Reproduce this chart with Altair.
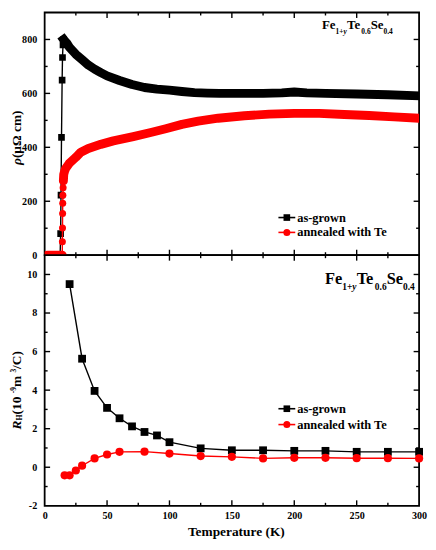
import altair as alt
import pandas as pd

FONT = "Liberation Serif"
W = 378
H1 = 245
H2 = 253

# ---------------- data ----------------
# resistivity, as-grown
AG_T = [2, 6, 10, 12.4, 12.8, 13.1, 13.5, 14.0, 14.3, 14.7, 15.2, 16, 18, 20, 25, 30, 35, 40, 45, 50,
        60, 70, 80, 90, 100, 110, 120, 130, 140, 150, 160, 175, 190, 200, 210, 225, 250, 275, 300]
AG_RHO = [0, 0, 0, 0, 80, 223, 437, 649, 733, 780, 800, 795, 785, 770, 745, 725, 705, 690, 677, 665,
          648, 633, 622, 616, 612, 607, 603, 601, 600, 600, 600, 600, 602, 605, 602, 600, 598, 595, 591]
# resistivity, annealed with Te
AN_T = [2, 8, 14.1, 14.2, 14.3, 14.4, 14.5, 14.6, 14.8, 15.0, 15.3, 16, 17, 18.6, 20, 25, 29, 35, 45, 55,
        71, 85, 97, 110, 123, 139, 160, 180, 200, 220, 240, 260, 280, 300]
AN_RHO = [0, 0, 0, 50, 101, 155, 193, 222, 250, 275, 300, 312, 323, 333, 342, 363, 382, 396, 411, 424,
          440, 455, 469, 485, 497, 508, 517, 523, 526, 526, 522, 518, 513, 508]

# Hall coefficient
HG_T = [20, 30, 40, 50, 60, 70, 80, 90, 100, 125, 150, 175, 200, 225, 250, 275, 300]
HG_R = [9.5, 5.63, 3.96, 3.08, 2.54, 2.12, 1.83, 1.65, 1.30, 0.98, 0.88, 0.88, 0.85, 0.85, 0.80, 0.80, 0.80]
HA_T = [16, 20, 25, 30, 40, 50, 60, 80, 100, 125, 150, 175, 200, 225, 250, 275, 300]
HA_R = [-0.42, -0.42, -0.17, 0.08, 0.46, 0.66, 0.80, 0.81, 0.71, 0.58, 0.54, 0.46, 0.49, 0.49, 0.47, 0.47, 0.46]

X_LABELS = [0, 50, 100, 150, 200, 250, 300]
X_MAJ = [50, 100, 150, 200, 250]
X_MIN = [25, 75, 125, 175, 225, 275]
Y1_LABELS = [0, 200, 400, 600, 800]
Y1_MAJ = [200, 400, 600, 800]
Y1_MIN = [100, 300, 500, 700]
Y2_LABELS = [-2, 0, 2, 4, 6, 8, 10]
Y2_MAJ = [0, 2, 4, 6, 8, 10]
Y2_MIN = [-1, 1, 3, 5, 7, 9]

SERIES = ["as-grown", "annealed with Te"]

# ---------------- scales / axes ----------------
xs = alt.Scale(domain=[0, 300], nice=False, zero=False)
ys1 = alt.Scale(domain=[0, 900], nice=False, zero=False)
ys2 = alt.Scale(domain=[-2, 11], nice=False, zero=False)

lab = dict(labelFont=FONT, labelFontWeight="bold", labelColor="black", labelFlush=False, labelFontSize=10.2)
xax_top = alt.Axis(labels=False, ticks=False, domain=False, grid=False, title=None)
xax_bot = alt.Axis(values=X_LABELS, ticks=False, tickSize=0, domain=False, grid=False,
                   title="Temperature (K)", titleFont=FONT, titleFontWeight="bold", titleFontSize=13.5,
                   titleColor="black", titlePadding=4, titleX=W / 2 + 4, labelPadding=5, **lab)
yax1 = alt.Axis(values=Y1_LABELS, ticks=False, tickSize=0, domain=False, grid=False, title=None,
                labelPadding=8, **lab)
yax2 = alt.Axis(values=Y2_LABELS, ticks=False, tickSize=0, domain=False, grid=False, title=None,
                labelPadding=8, labelExpr="'' + datum.value", **lab)


def X(ax):
    return alt.X("T:Q", scale=xs, axis=ax)


def tick_layers(xax, yfield, yscale, yax, H, ymaj, ymin):
    out = []
    for vals, ln in ((X_MAJ, 5.5), (X_MIN, 3)):
        df = pd.DataFrame({"T": vals})
        out.append(alt.Chart(df).mark_rule(color="black", strokeWidth=1.4).encode(
            x=X(xax), y=alt.value(H), y2=alt.value(H - ln)))
        out.append(alt.Chart(df).mark_rule(color="black", strokeWidth=1.4).encode(
            x=X(xax), y=alt.value(0), y2=alt.value(ln)))
    for vals, ln in ((ymaj, 5.5), (ymin, 3)):
        df = pd.DataFrame({yfield: vals})
        Y = alt.Y(f"{yfield}:Q", scale=yscale, axis=yax)
        out.append(alt.Chart(df).mark_rule(color="black", strokeWidth=1.4).encode(
            y=Y, x=alt.value(0), x2=alt.value(ln)))
        out.append(alt.Chart(df).mark_rule(color="black", strokeWidth=1.4).encode(
            y=Y, x=alt.value(W), x2=alt.value(W - ln)))
    return out


def txt(s, x, y, size, italic=False, angle=0, align="left", baseline="alphabetic"):
    return alt.Chart(alt.Data(values=[{"a": 1}])).mark_text(
        text=s, font=FONT, fontSize=size, fontWeight="bold",
        fontStyle="italic" if italic else "normal", angle=angle, align=align,
        baseline=baseline, color="black").encode(x=alt.value(x), y=alt.value(y))


def legend(y1, y2):
    out = []
    x0 = W - 142
    for name, yy, col, shape in ((SERIES[0], y1, "black", "square"), (SERIES[1], y2, "red", "circle")):
        d = alt.Data(values=[{"s": name}])
        out.append(alt.Chart(d).mark_rule(color=col, strokeWidth=1.6).encode(
            x=alt.value(x0), x2=alt.value(x0 + 17), y=alt.value(yy)))
        out.append(alt.Chart(d).mark_point(shape=shape, filled=True, opacity=1, color=col,
                                           size=45 if shape == "square" else 50).encode(
            x=alt.value(x0 + 8.5), y=alt.value(yy)))
        out.append(alt.Chart(d).mark_text(font=FONT, fontSize=12.5, fontWeight="bold", align="left",
                                          baseline="middle", color="black").encode(
            text="s:N", x=alt.value(x0 + 19), y=alt.value(yy)))
    return out


def formula(x0, yb, big, small):
    parts = [("Fe", big, 1.055, False, 0), ("1+", small, 1.07, False, 1), ("y", small, 0.47, True, 1),
             ("Te", big, 1.111, False, 0), ("0.6", small, 1.25, False, 1), ("Se", big, 1.0, False, 0),
             ("0.4", small, 1.25, False, 1)]
    out = []
    x = x0
    for s, fs, em, it, sub in parts:
        out.append(txt(s, x, yb + (0.4 * big if sub else 0), fs, italic=it))
        x += em * fs
    return out


# ---------------- top panel ----------------
ag = pd.DataFrame({"T": AG_T, "rho": AG_RHO})
an = pd.DataFrame({"T": AN_T, "rho": AN_RHO})
Y1 = alt.Y("rho:Q", scale=ys1, axis=yax1)

top_layers = tick_layers(xax_top, "rho", ys1, yax1, H1, Y1_MAJ, Y1_MIN)
top_layers += [
    alt.Chart(ag).mark_line(color="black", strokeWidth=1.4, clip=True).encode(x=X(xax_top), y=Y1),
    alt.Chart(ag).transform_filter("datum.T >= 15.2").mark_line(
        color="black", strokeWidth=9, strokeCap="square", strokeJoin="round", clip=True).encode(x=X(xax_top), y=Y1),
    alt.Chart(ag).transform_filter("datum.T > 12.5 && datum.T < 15.5").mark_point(
        shape="square", filled=True, opacity=1, color="black", size=45, clip=True).encode(x=X(xax_top), y=Y1),
    alt.Chart(an).mark_line(color="red", strokeWidth=1.4, clip=True).encode(x=X(xax_top), y=Y1),
    alt.Chart(an).transform_filter("datum.T <= 14.1 || datum.T >= 15.0").transform_calculate(
        part="datum.T < 14.5 ? 'a' : 'b'").mark_line(
        color="red", strokeWidth=9, strokeCap="round", strokeJoin="round", clip=True).encode(
        x=X(xax_top), y=Y1, detail="part:N"),
    alt.Chart(an).transform_filter("datum.T > 14.1 && datum.T < 15.1").mark_point(
        shape="circle", filled=True, opacity=1, color="red", size=50, clip=True).encode(x=X(xax_top), y=Y1),
]
top_layers += legend(207, 222)
top_layers += formula(W - 98, 17, 13, 7.5)
top_layers += [txt("ρ", -28, 154, 13.5, italic=True, angle=270, baseline="middle"),
               txt(" (μΩ cm)", -28, 147, 13.5, angle=270, baseline="middle")]

top = alt.layer(*top_layers).properties(width=W, height=H1)

# ---------------- bottom panel ----------------
hg = pd.DataFrame({"T": HG_T, "RH": HG_R})
ha = pd.DataFrame({"T": HA_T, "RH": HA_R})
Y2 = alt.Y("RH:Q", scale=ys2, axis=yax2)

bot_layers = tick_layers(xax_bot, "RH", ys2, yax2, H2, Y2_MAJ, Y2_MIN)
bot_layers += [
    alt.Chart(hg).mark_line(color="black", strokeWidth=1.4).encode(x=X(xax_bot), y=Y2),
    alt.Chart(hg).mark_point(shape="square", filled=True, opacity=1, color="black", size=62).encode(x=X(xax_bot), y=Y2),
    alt.Chart(ha).mark_line(color="red", strokeWidth=1.4).encode(x=X(xax_bot), y=Y2),
    alt.Chart(ha).mark_point(shape="circle", filled=True, opacity=1, color="red", size=68).encode(x=X(xax_bot), y=Y2),
]
bot_layers += legend(155, 171)
bot_layers += formula(W - 95, 29, 16.5, 9.5)
# y title: R_H (10^-9 m^3/C), rotated, built from pieces going upward
fs = 13.5
yy = 176
pieces = [("R", fs, 0.667, True, 0), ("H", 8, 0.778, False, 3.5), (" (10", fs, 1.583, False, 0),
          ("-9", 7.5, 0.833, False, -3.2), (" m", fs, 1.083, False, 0), ("3", 7.5, 0.5, False, -3.2),
          ("/C)", fs, 1.333, False, 0)]
for s, f, em, it, dx in pieces:
    bot_layers.append(txt(s, -28 + dx, yy, f, italic=it, angle=270, baseline="middle"))
    yy -= em * f

bot = alt.layer(*bot_layers).properties(width=W, height=H2)

chart = alt.vconcat(top, bot, spacing=0, bounds="flush").properties(padding=0).configure_view(
    stroke="black", strokeWidth=1.8).configure_axis(labelFont=FONT, titleFont=FONT)

chart.save("out.html", embed_options={"renderer": "svg", "actions": False})
